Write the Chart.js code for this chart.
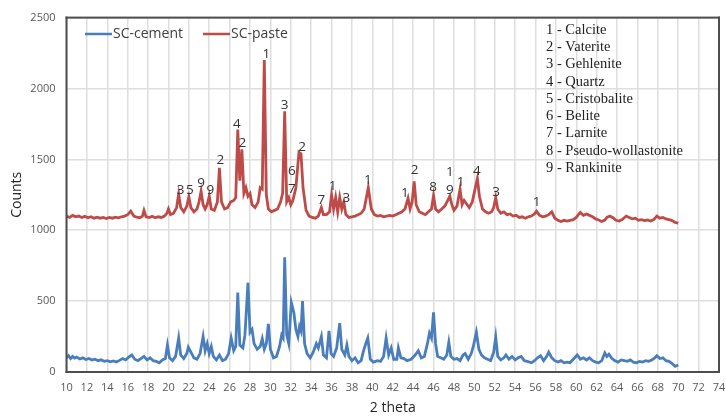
<!DOCTYPE html>
<html>
<head>
<meta charset="utf-8">
<script src="https://cdn.jsdelivr.net/npm/chart.js@4/dist/chart.umd.min.js"></script>
<style>
  html, body { margin: 0; padding: 0; background: #fff; }
  #wrap { width: 726px; height: 416px; }
</style>
</head>
<body>
<div id="wrap"><canvas id="xrd-chart"></canvas></div>
<script>
// x ticks / y ticks
var thetaTicks = [10, 12, 14, 16, 18, 20, 22, 24, 26, 28, 30, 32, 34, 36, 38, 40, 42, 44, 46, 48, 50, 52, 54, 56, 58, 60, 62, 64, 66, 68, 70, 72, 74];
var countTicks = [0, 500, 1000, 1500, 2000, 2500];

// SC-cement pattern (2 theta, counts)
var cementTheta = [10.0, 10.2, 10.4, 10.6, 10.8, 11.0, 11.3, 11.6, 11.9, 12.2, 12.5, 12.8, 13.1, 13.4, 13.7, 14.0, 14.3, 14.6, 14.9, 15.2, 15.5, 15.8, 16.1, 16.4, 16.7, 17.0, 17.3, 17.6, 17.9, 18.2, 18.5, 18.8, 19.1, 19.4, 19.7, 19.9, 20.1, 20.4, 20.7, 21.0, 21.2, 21.5, 21.8, 21.95, 22.2, 22.5, 22.8, 23.1, 23.4, 23.6, 23.8, 24.0, 24.2, 24.4, 24.7, 25.0, 25.3, 25.6, 25.9, 26.15, 26.4, 26.6, 26.8, 27.0, 27.3, 27.5, 27.8, 28.0, 28.2, 28.4, 28.7, 29.0, 29.2, 29.4, 29.6, 29.8, 30.0, 30.3, 30.6, 30.9, 31.1, 31.25, 31.4, 31.6, 31.8, 32.05, 32.3, 32.5, 32.7, 32.85, 33.0, 33.15, 33.35, 33.6, 33.9, 34.2, 34.5, 34.7, 35.0, 35.2, 35.5, 35.75, 35.95, 36.2, 36.5, 36.8, 37.0, 37.3, 37.5, 37.7, 38.0, 38.3, 38.6, 38.9, 39.1, 39.35, 39.55, 39.8, 40.1, 40.5, 40.8, 41.1, 41.35, 41.6, 41.85, 42.1, 42.4, 42.55, 42.8, 43.1, 43.4, 43.8, 44.2, 44.5, 44.8, 45.1, 45.4, 45.6, 45.8, 46.0, 46.2, 46.4, 46.7, 47.0, 47.3, 47.5, 47.7, 48.0, 48.3, 48.6, 48.9, 49.1, 49.4, 49.7, 49.9, 50.05, 50.2, 50.45, 50.7, 51.0, 51.3, 51.6, 51.9, 52.1, 52.3, 52.6, 52.9, 53.1, 53.4, 53.7, 54.0, 54.3, 54.6, 54.9, 55.2, 55.6, 55.9, 56.2, 56.5, 56.8, 57.1, 57.3, 57.6, 57.9, 58.2, 58.5, 58.8, 59.1, 59.4, 59.7, 60.1, 60.4, 60.7, 61.0, 61.3, 61.6, 61.9, 62.2, 62.5, 62.8, 63.0, 63.2, 63.5, 63.8, 64.1, 64.4, 64.7, 65.0, 65.3, 65.6, 65.9, 66.2, 66.5, 66.8, 67.1, 67.4, 67.7, 67.9, 68.2, 68.5, 68.8, 69.1, 69.4, 69.7, 70.0];
var cementCounts = [100, 115, 95, 110, 98, 105, 92, 100, 88, 95, 85, 90, 80, 86, 75, 80, 72, 78, 70, 82, 95, 85, 105, 120, 90, 80, 95, 110, 85, 100, 80, 75, 65, 85, 95, 190, 100, 80, 110, 240, 120, 95, 130, 175, 140, 100, 90, 130, 250, 150, 200, 130, 180, 110, 85, 120, 80, 90, 130, 240, 150, 180, 560, 190, 170, 260, 630, 280, 300, 200, 160, 180, 235, 160, 200, 340, 160, 100, 110, 180, 260, 240, 810, 260, 200, 490, 420, 300, 250, 320, 290, 500, 200, 130, 100, 140, 200, 170, 250, 120, 100, 290, 130, 110, 170, 345, 160, 120, 190, 110, 80, 100, 65, 80, 140, 200, 240, 90, 70, 80, 75, 110, 240, 120, 170, 90, 90, 170, 100, 95, 80, 90, 120, 150, 100, 110, 200, 275, 240, 420, 200, 110, 100, 90, 120, 210, 110, 90, 95, 80, 120, 130, 90, 130, 180, 230, 280, 160, 120, 100, 90, 80, 140, 247, 110, 85, 100, 120, 90, 110, 85, 100, 110, 80, 75, 65, 80, 100, 115, 80, 110, 140, 100, 80, 70, 80, 65, 70, 65, 90, 120, 90, 100, 85, 100, 80, 70, 65, 80, 134, 110, 125, 95, 80, 70, 85, 80, 75, 85, 70, 65, 75, 70, 80, 75, 85, 100, 115, 95, 100, 80, 75, 60, 40, 50];

// SC-paste pattern (2 theta, counts)
var pasteTheta = [10.0, 10.3, 10.6, 10.9, 11.2, 11.5, 11.8, 12.1, 12.4, 12.7, 13.0, 13.3, 13.6, 13.9, 14.2, 14.5, 14.8, 15.1, 15.4, 15.7, 16.0, 16.3, 16.6, 16.9, 17.2, 17.45, 17.6, 17.8, 18.1, 18.4, 18.7, 19.0, 19.3, 19.6, 19.85, 20.0, 20.2, 20.5, 20.8, 21.0, 21.2, 21.5, 21.8, 22.0, 22.2, 22.5, 22.8, 23.0, 23.2, 23.4, 23.6, 23.8, 24.0, 24.2, 24.5, 24.8, 25.0, 25.2, 25.5, 25.8, 26.1, 26.4, 26.6, 26.8, 27.0, 27.2, 27.4, 27.6, 27.8, 28.0, 28.2, 28.5, 28.8, 29.0, 29.2, 29.4, 29.6, 29.8, 30.1, 30.4, 30.7, 31.0, 31.2, 31.4, 31.6, 31.8, 32.0, 32.2, 32.5, 32.8, 33.0, 33.2, 33.5, 33.8, 34.1, 34.4, 34.7, 35.0, 35.2, 35.5, 35.8, 36.0, 36.2, 36.4, 36.6, 36.8, 37.0, 37.2, 37.4, 37.7, 38.0, 38.3, 38.6, 38.9, 39.2, 39.6, 39.9, 40.2, 40.5, 40.8, 41.1, 41.4, 41.7, 42.0, 42.3, 42.6, 42.9, 43.2, 43.5, 43.7, 43.9, 44.1, 44.3, 44.6, 44.9, 45.2, 45.5, 45.8, 46.0, 46.2, 46.5, 46.8, 47.1, 47.4, 47.6, 47.8, 48.0, 48.3, 48.6, 48.8, 49.0, 49.2, 49.5, 49.8, 50.1, 50.3, 50.5, 50.8, 51.1, 51.4, 51.7, 51.9, 52.1, 52.3, 52.6, 52.9, 53.2, 53.5, 53.8, 54.1, 54.4, 54.7, 55.0, 55.3, 55.6, 55.9, 56.1, 56.4, 56.7, 57.0, 57.3, 57.6, 57.9, 58.2, 58.5, 58.8, 59.1, 59.4, 59.7, 60.0, 60.2, 60.4, 60.7, 61.0, 61.3, 61.6, 61.9, 62.2, 62.5, 62.8, 63.0, 63.3, 63.6, 63.9, 64.2, 64.5, 64.9, 65.2, 65.5, 65.8, 66.1, 66.4, 66.7, 67.0, 67.3, 67.6, 67.9, 68.2, 68.5, 68.8, 69.1, 69.4, 69.7, 70.0];
var pasteCounts = [1100, 1090, 1105, 1095, 1100, 1090, 1098, 1088, 1095, 1085, 1092, 1085, 1090, 1083, 1090, 1085, 1092, 1088, 1095, 1100, 1110, 1135, 1100, 1092, 1088, 1100, 1140, 1095, 1090, 1098, 1088, 1095, 1090, 1100, 1120, 1150, 1110, 1120, 1160, 1255, 1160, 1130, 1170, 1235, 1160, 1130, 1150, 1200, 1275, 1180, 1150, 1180, 1240, 1150, 1140, 1200, 1440, 1200, 1150, 1160, 1200, 1210, 1230, 1710, 1350, 1570, 1260, 1300, 1240, 1260, 1180, 1160, 1200, 1300, 1290, 2200, 1250, 1150, 1130, 1140, 1150, 1200, 1260, 1840, 1200, 1230, 1180, 1210, 1300, 1550, 1540, 1300, 1140, 1100, 1090, 1085, 1100, 1160, 1110, 1110, 1130, 1250, 1150, 1230, 1130, 1230, 1150, 1200, 1110, 1090, 1095, 1100, 1110, 1120, 1150, 1300, 1150, 1110, 1100, 1105, 1095, 1100, 1105, 1100, 1110, 1120, 1130, 1150, 1225, 1150, 1200, 1345, 1180, 1130, 1120, 1110, 1130, 1150, 1245, 1150, 1130, 1150, 1170, 1210, 1240, 1180, 1140, 1170, 1290, 1180, 1210, 1190, 1160, 1200, 1300, 1365, 1240, 1150, 1130, 1120, 1130, 1160, 1230, 1150, 1120, 1130, 1110, 1115, 1100, 1105, 1090, 1095, 1085, 1095, 1100, 1115, 1135, 1105, 1095, 1100, 1110, 1130, 1085, 1070, 1062, 1070, 1065, 1070, 1075, 1090, 1110, 1125, 1105, 1115, 1105, 1095, 1080, 1072, 1062, 1072, 1090, 1100, 1088, 1070, 1065, 1075, 1100, 1090, 1080, 1085, 1070, 1075, 1068, 1072, 1065, 1075, 1100, 1085, 1090, 1080, 1075, 1068, 1055, 1050];

// phase markers above the paste pattern
var peakTheta = [21.2, 22.1, 23.2, 24.1, 25.1, 26.7, 27.25, 29.6, 31.4, 32.1, 32.1, 33.1, 35.0, 36.1, 37.45, 39.57, 43.2, 44.15, 45.95, 47.6, 47.6, 48.65, 50.25, 52.15, 56.1];
var peakCounts = [1281, 1281, 1333, 1281, 1492, 1746, 1614, 2245, 1880, 1415, 1288, 1586, 1211, 1311, 1227, 1352, 1262, 1422, 1305, 1410, 1286, 1340, 1418, 1269, 1199];
var peakNames = ["3", "5", "9", "9", "2", "4", "2", "1", "3", "6", "7", "2", "7", "1", "3", "1", "1", "2", "8", "1", "9", "1", "4", "3", "1"];

var phaseList = ["1 - Calcite", "2 - Vaterite", "3 - Gehlenite", "4 - Quartz", "5 - Cristobalite", "6 - Belite", "7 - Larnite", "8 - Pseudo-wollastonite", "9 - Rankinite"];

function pairs(xs, ys) {
  return xs.map(function (x, i) { return { x: x, y: ys[i] }; });
}

var extras = {
  id: "extras",
  afterDraw: function (chart) {
    var ctx = chart.ctx, a = chart.chartArea;
    var xs = chart.scales.x, ys = chart.scales.y;
    ctx.save();
    // frame round the plot area
    ctx.fillStyle = "#4d4d4d";
    ctx.fillRect(a.left - 1, a.top - 1, a.right - a.left + 2, 2);
    ctx.fillRect(a.left - 1, a.bottom - 1, a.right - a.left + 2, 2);
    ctx.fillRect(a.left - 1, a.top - 1, 2, a.bottom - a.top + 2);
    ctx.fillRect(a.right - 1, a.top - 1, 2, a.bottom - a.top + 2);
    // peak numbers
    ctx.fillStyle = "#333";
    ctx.font = "13.5px 'Open Sans'";
    ctx.textAlign = "center";
    ctx.textBaseline = "middle";
    peakNames.forEach(function (t, i) {
      ctx.fillText(t, xs.getPixelForValue(peakTheta[i]), ys.getPixelForValue(peakCounts[i]));
    });
    // legend
    ctx.textAlign = "left";
    ctx.font = "14px 'Open Sans'";
    var lx = [85, 203];
    chart.data.datasets.forEach(function (ds, i) {
      ctx.strokeStyle = ds.borderColor;
      ctx.lineWidth = 2.5;
      ctx.beginPath();
      ctx.moveTo(lx[i], 34);
      ctx.lineTo(lx[i] + 27, 34);
      ctx.stroke();
      ctx.fillStyle = "#404040";
      ctx.fillText(ds.label, lx[i] + 28, 34);
    });
    // phase list
    ctx.fillStyle = "#222";
    ctx.font = "14.5px 'Liberation Serif'";
    phaseList.forEach(function (t, i) {
      ctx.fillText(t, 546, 30 + i * 17.25);
    });
    ctx.restore();
  }
};

var chart = new Chart(document.getElementById("xrd-chart"), {
  type: "line",
  data: {
    datasets: [
      {
        label: "SC-cement",
        data: pairs(cementTheta, cementCounts),
        borderColor: "#4a7ebb",
        borderWidth: 2.8,
        pointRadius: 0,
        tension: 0
      },
      {
        label: "SC-paste",
        data: pairs(pasteTheta, pasteCounts),
        borderColor: "#be4b48",
        borderWidth: 2.8,
        pointRadius: 0,
        tension: 0
      }
    ]
  },
  options: {
    responsive: true,
    maintainAspectRatio: false,
    animation: false,
    layout: { padding: { left: 0, right: 7, top: 17, bottom: 0 } },
    plugins: { legend: { display: false }, tooltip: { enabled: false } },
    scales: {
      x: {
        type: "linear",
        min: 10,
        max: 74,
        afterBuildTicks: function (s) { s.ticks = thetaTicks.map(function (v) { return { value: v }; }); },
        afterFit: function (s) { s.height = 44; s.paddingLeft = 0; s.paddingRight = 0; },
        ticks: { color: "#595959", font: { family: "'Open Sans'", size: 11 }, padding: 9, maxRotation: 0, autoSkip: false },
        grid: { color: "#dedede", lineWidth: 1.5, drawTicks: false },
        border: { display: false },
        title: { display: true, text: "2 theta", color: "#262626", font: { family: "'Open Sans'", size: 14 }, padding: { top: 0, bottom: 0 } }
      },
      y: {
        min: 0,
        max: 2500,
        afterBuildTicks: function (s) { s.ticks = countTicks.map(function (v) { return { value: v }; }); },
        afterFit: function (s) { s.width = 66.5; },
        ticks: { color: "#595959", font: { family: "'Open Sans'", size: 11 }, padding: 11, callback: function (v) { return String(v); } },
        grid: { color: "#dedede", lineWidth: 1.5, drawTicks: false },
        border: { display: false },
        title: { display: true, text: "Counts", color: "#262626", font: { family: "'Open Sans'", size: 14 }, padding: { top: 9, bottom: 0 } }
      }
    }
  },
  plugins: [extras]
});
</script>
</body>
</html>
